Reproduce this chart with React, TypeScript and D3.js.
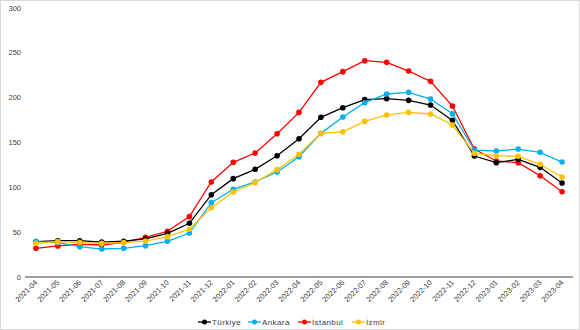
import React, { useEffect } from "react";
import * as d3 from "d3";

const months = [
  "2021-04","2021-05","2021-06","2021-07","2021-08","2021-09","2021-10","2021-11","2021-12",
  "2022-01","2022-02","2022-03","2022-04","2022-05","2022-06","2022-07","2022-08","2022-09",
  "2022-10","2022-11","2022-12","2023-01","2023-02","2023-03","2023-04",
];
const turkiye = [39.4,40.5,40.5,39,39.9,42.4,48.7,59.9,91.8,109.7,120.1,135.3,154.2,178.1,188.8,197.8,198.9,197,191.8,174.7,134.9,127.5,131.2,122.3,104.8];
const ankara = [39.4,38.3,33.8,31.2,32,34.9,39.8,49,82.9,97.8,106,117.1,134.2,160.2,178.4,194.4,204.1,206,198.5,182.1,141.6,140.5,142.7,139,128.2];
const istanbul = [32,34.6,36.4,35.7,38.7,44.3,51,67.3,106,127.9,138.3,159.8,183.6,217.1,229,241.2,239.4,229.7,218.2,190.7,142.7,129.4,127.5,113,95.1];
const izmir = [37.5,39.4,38.7,37.5,38.3,40.1,45,53.2,77.3,94.8,105.2,119.7,136.8,160.2,162,173.6,180.7,183.6,181.8,169.5,137.9,135.3,134.6,125.7,111.5];
const yTicks = [0,50,100,150,200,250,300];

const seriesNames = ["Türkiye","Ankara","İstanbul","İzmir"];
const seriesColors = ["#000000","#00b0f0","#ff0000","#ffc000"];
const seriesData = [turkiye, ankara, istanbul, izmir];
const drawOrder = [2, 0, 1, 3];

export default function App() {
  useEffect(() => { document.body.style.margin = "0"; }, []);
  const W = 580, H = 330;
  const x = d3.scaleBand<string>().domain(months).range([25, 573]);
  const y = d3.scaleLinear().domain([0, 300]).range([277, 8]);
  const cx = (m: string) => (x(m) as number) + x.bandwidth() / 2;
  const line = d3.line<number>().x((_, i) => cx(months[i])).y(v => y(v));
  const font = "'Liberation Sans', Arial, sans-serif";
  const legendX = [198, 248, 298, 352];
  return (
    <svg width={W} height={H} style={{ display: "block" }} fontFamily={font}>
      <rect x={0.5} y={0.5} width={W - 1} height={H - 1} fill="#fff" stroke="#d9d9d9" />
      {yTicks.map(t => (
        <text key={t} x={21} y={y(t)} dy="0.35em" textAnchor="end" fontSize={7.5} fill="#404040">{t}</text>
      ))}
      <line x1={25} x2={573} y1={y(0)} y2={y(0)} stroke="#404040" strokeWidth={1} />
      {months.map(m => (
        <text key={m} transform={`translate(${cx(m) + 2},${y(0) + 6}) rotate(-45)`} textAnchor="end" fontSize={7.5} fill="#404040">{m}</text>
      ))}
      {drawOrder.map(si => (
        <g key={si}>
          <path d={line(seriesData[si]) as string} fill="none" stroke={seriesColors[si]} strokeWidth={1.3} />
          {seriesData[si].map((v, i) => (
            <circle key={i} cx={cx(months[i])} cy={y(v)} r={2.8} fill={seriesColors[si]} />
          ))}
        </g>
      ))}
      {seriesNames.map((n, i) => (
        <g key={n} transform={`translate(${legendX[i]},322)`}>
          <line x1={0} x2={13} y1={0} y2={0} stroke={seriesColors[i]} strokeWidth={1.3} />
          <circle cx={6.5} cy={0} r={2.5} fill={seriesColors[i]} />
          <text x={14} y={0} dy="0.35em" fontSize={8} letterSpacing={0.4} fill="#404040">{n}</text>
        </g>
      ))}
    </svg>
  );
}
